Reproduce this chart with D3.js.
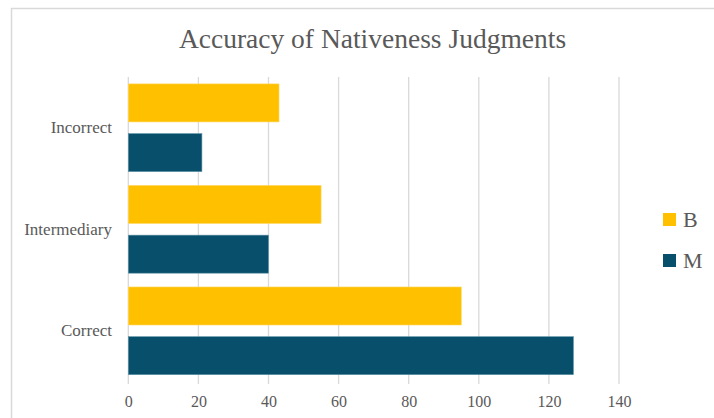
<!DOCTYPE html>
<html>
<head>
<meta charset="utf-8">
<script src="https://cdn.jsdelivr.net/npm/d3@7"></script>
<style>
  html, body { margin: 0; padding: 0; background: #fff; }
  svg { display: block; }
</style>
</head>
<body>
<svg id="chart" width="714" height="418"></svg>
<script>
const categories = ["Incorrect", "Intermediary", "Correct"];
const seriesNames = ["B", "M"];
const valuesB = [43, 55, 95];
const valuesM = [21, 40, 127];
const xTicks = [0, 20, 40, 60, 80, 100, 120, 140];
const title = "Accuracy of Nativeness Judgments";

const colors = { B: "#FFC000", M: "#074F6A" };
const textColor = "#595959";
const serif = "'Liberation Serif', 'DejaVu Serif', serif";

const svg = d3.select("#chart");

// chart border (top and left visible)
svg.append("line").attr("x1", 11).attr("x2", 714).attr("y1", 8.5).attr("y2", 8.5)
  .attr("stroke", "#d9d9d9").attr("stroke-width", 1.5);
svg.append("line").attr("x1", 11.5).attr("x2", 11.5).attr("y1", 8).attr("y2", 418)
  .attr("stroke", "#d9d9d9").attr("stroke-width", 1.5);

const x = d3.scaleLinear().domain([0, 140]).range([128.3, 619]);
const y = d3.scaleBand().domain(categories).range([77, 381.6]).paddingInner(0.136).paddingOuter(0.068);
const ySub = d3.scaleBand().domain(seriesNames).range([0, y.bandwidth()]).paddingInner(0.235).paddingOuter(0);

// gridlines
svg.append("g").selectAll("line").data(xTicks).join("line")
  .attr("x1", d => x(d)).attr("x2", d => x(d))
  .attr("y1", 77).attr("y2", 384)
  .attr("stroke", "#d9d9d9").attr("stroke-width", 1.3);

// x axis labels via d3 axis
const xAxis = d3.axisBottom(x).tickValues(xTicks).tickSize(0).tickPadding(0);
const gx = svg.append("g").attr("transform", "translate(0,396)").call(xAxis);
gx.select(".domain").remove();
gx.selectAll("text").attr("font-family", serif).attr("font-size", 16).attr("fill", textColor).attr("dy", "0.71em");

// y axis labels
const yAxis = d3.axisLeft(y).tickSize(0).tickPadding(0);
const gy = svg.append("g").attr("transform", "translate(112,0)").call(yAxis);
gy.select(".domain").remove();
gy.selectAll("text").attr("font-family", serif).attr("font-size", 17).attr("fill", textColor);

// bars
const rows = categories.map((c, i) => ({ cat: c, B: valuesB[i], M: valuesM[i] }));
const groups = svg.append("g").selectAll("g").data(rows).join("g")
  .attr("transform", d => `translate(0,${y(d.cat)})`);
groups.selectAll("rect").data(d => seriesNames.map(s => ({ s, v: d[s] }))).join("rect")
  .attr("x", x(0))
  .attr("y", d => ySub(d.s))
  .attr("width", d => x(d.v) - x(0))
  .attr("height", ySub.bandwidth())
  .attr("fill", d => colors[d.s])
  .attr("stroke", d => d.s === "M" ? "#5f93a8" : "#ffd863")
  .attr("stroke-width", 0.6);

// title
svg.append("text").attr("x", 372.5).attr("y", 48).attr("text-anchor", "middle")
  .attr("font-family", serif).attr("font-size", 27.5).attr("fill", textColor).text(title);

// legend
const legend = svg.append("g").selectAll("g").data(seriesNames).join("g")
  .attr("transform", (d, i) => `translate(663,${213 + i * 41})`);
legend.append("rect").attr("width", 13).attr("height", 13).attr("fill", d => colors[d]);
legend.append("text").attr("x", 20).attr("y", 13.5).attr("font-family", serif)
  .attr("font-size", 22).attr("fill", textColor).text(d => d);
</script>
</body>
</html>
